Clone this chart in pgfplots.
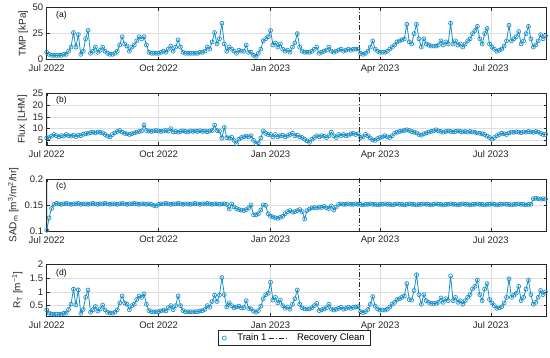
\documentclass[border=0pt]{standalone}
\usepackage{fontspec}
\setmainfont{Liberation Sans}
\usepackage{pgfplots}
\pgfplotsset{compat=1.18}
\usepackage{pgfplotstable}
\definecolor{train}{RGB}{22,142,200}
\definecolor{axgray}{RGB}{38,38,38}

\pgfplotstableread{
day tmp flux sad rt
0 7 6.0 0.101 0.35
2 5 6.2 0.125 0.23
4 4 6.8 0.143 0.19
6 4 7.5 0.151 0.19
8 4 7.0 0.153 0.19
10 4 6.5 0.152 0.19
12 4 7.0 0.151 0.19
14 5 6.8 0.152 0.22
16 5 7.5 0.153 0.23
18 8 7.0 0.152 0.36
20 12 6.8 0.151 0.55
22 26 7.2 0.152 1.10
24 12 6.6 0.152 0.52
26 24 7.3 0.153 1.07
28 5 7.0 0.151 0.22
30 8 7.6 0.152 0.36
32 20 7.8 0.152 0.80
34 28 8.0 0.151 1.07
36 6 8.3 0.152 0.26
38 8 8.5 0.153 0.35
40 12 8.2 0.152 0.47
42 7 8.6 0.151 0.30
44 9 8.4 0.152 0.38
46 12 8.2 0.152 0.52
48 8 7.5 0.153 0.35
50 6 6.8 0.152 0.26
52 5 6.5 0.151 0.23
54 5 7.5 0.152 0.23
56 6 8.2 0.152 0.26
58 8 8.8 0.151 0.35
60 14 9.2 0.152 0.60
62 22 8.5 0.153 0.85
64 15 8.0 0.152 0.60
66 13 7.8 0.151 0.55
68 8 7.5 0.152 0.35
70 12 7.8 0.152 0.50
72 14 8.2 0.153 0.55
74 18 8.5 0.152 0.72
76 22 8.8 0.151 0.85
78 20 9.0 0.152 0.80
80 22 11.5 0.152 0.93
82 14 9.2 0.151 0.55
84 7 9.0 0.152 0.32
86 6 8.8 0.151 0.28
88 6 9.0 0.149 0.27
90 6 9.2 0.148 0.28
92 6 9.0 0.151 0.28
94 7 8.8 0.152 0.31
96 8 9.0 0.152 0.34
98 7 9.2 0.153 0.31
100 10 9.0 0.152 0.42
102 13 10.0 0.151 0.50
104 8 8.6 0.152 0.35
106 12 8.8 0.152 0.50
108 19 8.5 0.153 0.85
110 12 8.8 0.152 0.50
112 7 9.0 0.151 0.32
114 6 8.8 0.152 0.28
116 6 8.6 0.152 0.27
118 6 9.0 0.151 0.28
120 6 8.8 0.152 0.27
122 6 9.0 0.153 0.28
124 6 8.8 0.152 0.28
126 7 9.1 0.151 0.31
128 7 8.8 0.152 0.32
130 8 9.0 0.152 0.36
132 12 8.7 0.153 0.50
134 10 9.0 0.152 0.44
136 17 9.2 0.151 0.65
138 26 11.5 0.152 0.88
140 15 9.2 0.152 0.65
142 20 9.0 0.151 0.88
144 35 6.0 0.152 1.52
146 15 10.5 0.152 0.90
148 8 6.2 0.151 0.45
150 12 6.0 0.142 0.60
152 10 6.3 0.152 0.50
154 8 5.0 0.146 0.42
156 6 3.6 0.143 0.45
158 9 5.5 0.141 0.48
160 8 6.2 0.140 0.42
162 8 6.5 0.139 0.43
164 14 6.8 0.141 0.68
166 7 6.5 0.144 0.40
168 7 7.0 0.150 0.38
170 4 5.0 0.131 0.30
172 3 3.6 0.131 0.26
174 6 4.0 0.133 0.32
176 10 6.0 0.140 0.48
178 18 9.0 0.150 0.75
180 20 8.0 0.149 0.90
182 22 7.5 0.133 0.95
184 28 7.5 0.128 1.35
186 14 6.5 0.127 0.70
188 16 7.5 0.125 0.80
190 12 6.5 0.124 0.60
192 15 7.0 0.126 0.70
194 10 7.2 0.128 0.50
196 8 6.5 0.133 0.40
198 9 7.0 0.137 0.45
200 7 7.5 0.139 0.37
202 12 8.0 0.136 0.55
204 16 7.0 0.137 0.75
206 25 7.2 0.139 1.07
208 12 6.5 0.141 0.55
210 8 6.2 0.137 0.42
212 7 5.5 0.123 0.38
214 7 4.8 0.139 0.38
216 7 4.2 0.142 0.38
218 8 5.5 0.144 0.42
220 10 6.2 0.145 0.50
222 12 7.0 0.144 0.58
224 6 6.5 0.146 0.32
226 7 7.0 0.145 0.35
228 8 6.8 0.147 0.38
230 9 6.2 0.144 0.42
232 12 7.0 0.143 0.55
234 8 8.5 0.148 0.38
236 7 7.0 0.140 0.34
238 8 6.2 0.146 0.37
240 9 7.5 0.151 0.40
242 10 7.0 0.152 0.44
244 8 7.5 0.151 0.37
246 9 7.0 0.151 0.40
248 10 7.2 0.152 0.44
250 9 7.8 0.151 0.40
252 10 8.0 0.151 0.44
254 10 7.5 0.152 0.45
256 10 7.8 0.151 0.46
258 6 6.2 0.151 0.28
260 5 6.5 0.150 0.25
262 6 7.5 0.151 0.28
264 8 7.0 0.151 0.36
266 12 6.0 0.152 0.55
268 18 5.2 0.151 0.83
270 10 5.0 0.151 0.48
272 8 5.8 0.150 0.38
274 7 6.2 0.151 0.34
276 7 6.5 0.151 0.34
278 7 7.0 0.152 0.34
280 8 6.5 0.151 0.37
282 10 6.2 0.151 0.45
284 12 7.0 0.150 0.55
286 14 8.0 0.151 0.62
288 17 8.5 0.152 0.72
290 18 8.8 0.151 0.75
292 19 9.0 0.151 0.80
294 20 9.2 0.150 0.85
296 34 9.5 0.151 1.30
298 17 9.2 0.152 0.72
300 15 8.8 0.151 0.70
302 25 8.5 0.151 1.05
304 34 8.2 0.150 1.62
306 20 7.5 0.151 0.90
308 12 7.2 0.151 0.55
310 20 7.8 0.152 0.90
312 15 8.2 0.151 0.68
314 14 8.5 0.151 0.62
316 13 8.8 0.150 0.58
318 13 9.0 0.151 0.58
320 13 9.5 0.152 0.58
322 14 9.0 0.151 0.62
324 18 8.8 0.151 0.78
326 14 8.5 0.150 0.62
328 17 8.8 0.151 0.75
330 15 9.0 0.151 0.68
332 35 8.8 0.152 1.58
334 15 8.6 0.151 0.68
336 18 8.8 0.151 0.80
338 14 9.0 0.150 0.62
340 15 8.8 0.151 0.68
342 12 8.6 0.152 0.55
344 15 8.8 0.151 0.68
346 18 8.5 0.151 0.80
348 20 8.8 0.150 0.90
350 25 8.6 0.151 1.10
352 28 8.4 0.151 1.20
354 32 8.2 0.152 1.43
356 20 8.0 0.151 0.90
358 15 7.8 0.151 0.68
360 25 7.5 0.150 1.10
362 30 6.8 0.151 1.30
364 15 6.2 0.151 0.72
366 12 5.5 0.152 0.60
368 10 6.2 0.151 0.50
370 8 7.0 0.150 0.40
372 9 7.5 0.151 0.42
374 10 8.0 0.151 0.46
376 13 7.8 0.152 0.60
378 18 7.5 0.151 0.80
380 33 8.2 0.151 1.47
382 18 8.5 0.150 0.80
384 20 8.4 0.151 0.88
386 22 8.6 0.151 0.95
388 27 8.5 0.152 1.20
390 15 8.3 0.151 0.68
392 18 8.6 0.151 0.80
394 25 8.5 0.150 1.10
396 32 8.8 0.151 1.43
398 20 8.6 0.151 0.90
400 12 8.4 0.162 0.55
402 14 8.8 0.163 0.62
404 18 8.5 0.162 0.80
406 24 8.0 0.161 1.05
408 20 7.5 0.162 0.90
410 23 7.5 0.161 1.00
}\data

\pgfplotsset{
  panel/.style={
    scale only axis, width=500pt, height=51.8pt,
    anchor=north west,
    xmin=0, xmax=411,
    xtick={0,92,184,274,365},
    xticklabels={Jul 2022,Oct 2022,Jan 2023,Apr 2023,Jul 2023},
    grid=major,
    major grid style={black!13, line width=0.4pt},
    axis line style={axgray, line width=0.5pt},
    tick style={axgray, line width=0.4pt},
    tick align=inside, major tick length=3pt,
    ticklabel style={font=\fontsize{9.5}{10}\selectfont, text=axgray},
    label style={font=\fontsize{10}{11}\selectfont, text=axgray},
    /pgf/number format/assume math mode=true,
    scaled y ticks=false,
    xticklabel style={yshift=-2pt},
  },
  trainplot/.style={train, line width=0.8pt, mark=o, mark size=2pt,
    mark options={solid, line width=0.65pt}},
  cleanplot/.style={axgray, line width=0.5pt,
    dash pattern=on 5pt off 2pt on 1pt off 2pt},
}

\begin{document}
\begin{tikzpicture}
% (a)
\begin{axis}[panel, at={(46.7pt,-7.7pt)},
  ymin=0, ymax=50, ytick={0,25,50},
  ylabel={TMP [kPa]},
  ylabel style={at={(axis description cs:-0.047,0.5)}, anchor=center}]
\addplot[trainplot] table[x=day, y=tmp] {\data};
\addplot[cleanplot] coordinates {(257,-10) (257,60)};
\node[anchor=west, font=\fontsize{8.5}{9}\selectfont] at (rel axis cs:0.012,0.86) {(a)};
\end{axis}
% (b)
\begin{axis}[panel, at={(46.7pt,-93.3pt)},
  ymin=3, ymax=25, ytick={5,10,15,20,25},
  ylabel={Flux [LHM]},
  ylabel style={at={(axis description cs:-0.049,0.5)}, anchor=center}]
\addplot[trainplot] table[x=day, y=flux] {\data};
\addplot[cleanplot] coordinates {(257,0) (257,30)};
\node[anchor=west, font=\fontsize{8.5}{9}\selectfont] at (rel axis cs:0.012,0.86) {(b)};
\end{axis}
% (c)
\begin{axis}[panel, at={(46.7pt,-179pt)},
  ymin=0.1, ymax=0.2, ytick={0.1,0.15,0.2},
  yticklabels={0.1,0.15,0.2},
  ylabel={SAD\textsubscript{m} [m\textsuperscript{3}/m\textsuperscript{2}/hr]},
  ylabel style={at={(axis description cs:-0.067,0.5)}, anchor=center}]
\addplot[trainplot] table[x=day, y=sad] {\data};
\addplot[cleanplot] coordinates {(257,0) (257,1)};
\node[anchor=west, font=\fontsize{8.5}{9}\selectfont] at (rel axis cs:0.012,0.86) {(c)};
\end{axis}
% (d)
\begin{axis}[panel, at={(46.7pt,-264.3pt)},
  ymin=0.12, ymax=2, ytick={0.5,1,1.5,2},
  yticklabels={0.5,1,1.5,2},
  ylabel={R\textsubscript{T} [m\textsuperscript{−1}]},
  ylabel style={at={(axis description cs:-0.059,0.5)}, anchor=center},
  legend style={at={(0.4956,-0.276)}, anchor=north, legend columns=2,
    draw=axgray, line width=0.5pt, inner xsep=4pt, inner ysep=1.2pt,
    font=\fontsize{9.5}{10}\selectfont,
    /tikz/every odd column/.append style={column sep=9pt}},
  legend cell align=left]
\addplot[trainplot, forget plot] table[x=day, y=rt] {\data};
\addlegendimage{only marks, train, mark=o, mark size=2pt, mark options={line width=0.6pt}}
\addlegendentry{Train 1}
\addplot[cleanplot] coordinates {(257,-1) (257,3)};
\addlegendentry{Recovery Clean}
\node[anchor=south west, font=\fontsize{8.5}{9}\selectfont, text=axgray, inner sep=1pt] at (rel axis cs:0,1) {×10\textsuperscript{13}};
\node[anchor=west, font=\fontsize{8.5}{9}\selectfont] at (rel axis cs:0.012,0.82) {(d)};
\end{axis}
\pgfresetboundingbox
\path (0,0) rectangle (550pt,-358pt);
\end{tikzpicture}
\end{document}
